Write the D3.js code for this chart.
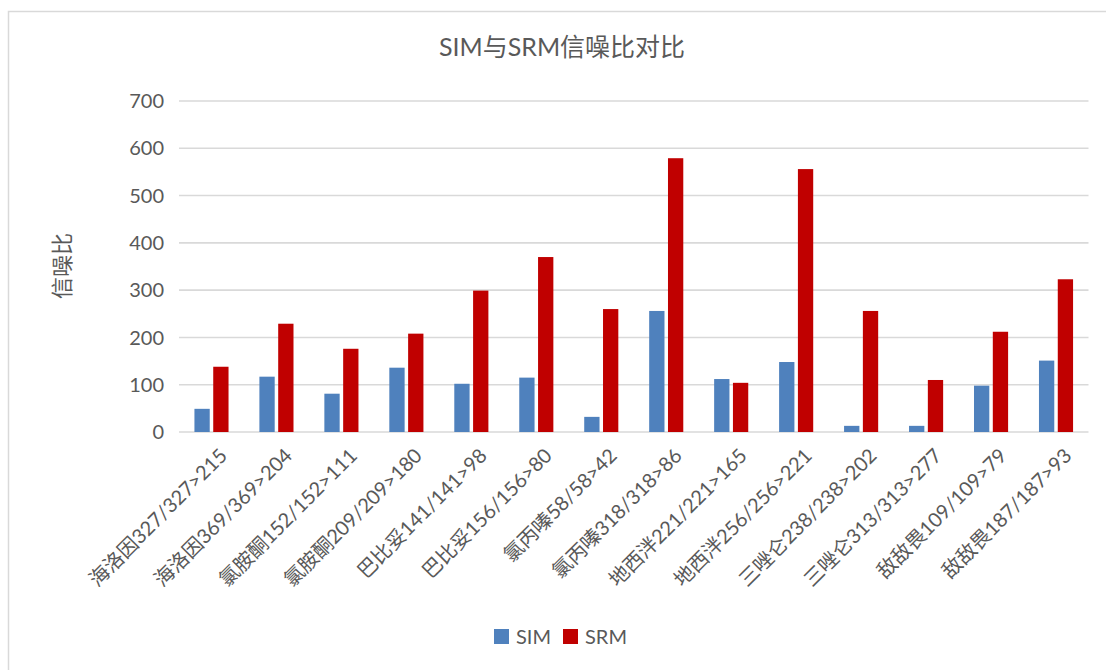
<!DOCTYPE html>
<html>
<head>
<meta charset="utf-8">
<script src="https://cdn.jsdelivr.net/npm/d3@7"></script>
<style>
  html, body { margin: 0; padding: 0; background: #fff; }
  svg { display: block; }
  text { font-family: Lato, "Noto Sans CJK SC", sans-serif; fill: #595959; }
</style>
</head>
<body>
<svg id="chart" width="1106" height="670"></svg>
<script>
const categories = [
  "海洛因327/327>215", "海洛因369/369>204", "氯胺酮152/152>111", "氯胺酮209/209>180",
  "巴比妥141/141>98", "巴比妥156/156>80", "氯丙嗪58/58>42", "氯丙嗪318/318>86",
  "地西泮221/221>165", "地西泮256/256>221", "三唑仑238/238>202", "三唑仑313/313>277",
  "敌敌畏109/109>79", "敌敌畏187/187>93"
];
const simValues = [49, 117, 81, 136, 102, 115, 32, 256, 112, 148, 13, 13, 98, 151];
const srmValues = [138, 229, 176, 208, 299, 370, 260, 579, 104, 556, 256, 110, 212, 323];
const yTicks = [0, 100, 200, 300, 400, 500, 600, 700];
const seriesNames = ["SIM", "SRM"];
const seriesColors = ["#4f81bd", "#c00000"];
const titleText = "SIM与SRM信噪比对比";
const yAxisTitle = "信噪比";

const svg = d3.select("#chart");

// chart frame
svg.append("rect").attr("x", 8.5).attr("y", 11.5).attr("width", 1120).attr("height", 700)
  .attr("fill", "#fff").attr("stroke", "#d9d9d9").attr("stroke-width", 1.5);

const x0 = d3.scaleBand().domain(categories).range([179, 1088.5]).paddingInner(0).paddingOuter(0);
const y = d3.scaleLinear().domain([0, 700]).range([432, 101]);

// gridlines
svg.append("g").selectAll("line").data(yTicks).join("line")
  .attr("x1", 179).attr("x2", 1088.5)
  .attr("y1", d => y(d)).attr("y2", d => y(d))
  .attr("stroke", "#d9d9d9").attr("stroke-width", 1.6);

// y tick labels
svg.append("g").selectAll("text").data(yTicks).join("text")
  .attr("x", 164).attr("y", d => y(d)).attr("dy", "0.36em")
  .attr("text-anchor", "end").attr("font-size", 20).text(d => d);

// bars
const barW = 15.3, gap = 3.5;
const x1 = d3.scaleOrdinal().domain(seriesNames).range([-barW - gap / 2, gap / 2]);
const rows = categories.map((c, i) => ({ c, vals: [simValues[i], srmValues[i]] }));
const groups = svg.append("g").selectAll("g").data(rows).join("g")
  .attr("transform", d => `translate(${x0(d.c) + x0.bandwidth() / 2},0)`);
groups.selectAll("rect").data(d => d.vals.map((v, k) => ({ v, k }))).join("rect")
  .attr("x", d => x1(seriesNames[d.k]))
  .attr("width", barW)
  .attr("y", d => y(d.v))
  .attr("height", d => y(0) - y(d.v))
  .attr("fill", d => seriesColors[d.k]);

// x labels
svg.append("g").selectAll("text").data(categories).join("text")
  .attr("transform", d => `translate(${x0(d) + x0.bandwidth() / 2 + 12},452) rotate(-45)`)
  .attr("text-anchor", "end").attr("dy", "0.35em")
  .attr("font-size", 20).text(d => d);

// title
svg.append("text").attr("x", 562).attr("y", 56).attr("text-anchor", "middle")
  .attr("font-size", 25).text(titleText);

// y axis title
svg.append("text").attr("transform", "translate(70,266) rotate(-90)")
  .attr("text-anchor", "middle").attr("font-size", 22).text(yAxisTitle);

// legend
const leg = svg.append("g").selectAll("g").data(seriesNames).join("g")
  .attr("transform", (d, i) => `translate(${494 + i * 69},629)`);
leg.append("rect").attr("width", 15).attr("height", 15).attr("fill", (d, i) => seriesColors[i]);
leg.append("text").attr("x", 22).attr("y", 7.5).attr("dy", "0.36em").attr("font-size", 20).text(d => d);
</script>
</body>
</html>
